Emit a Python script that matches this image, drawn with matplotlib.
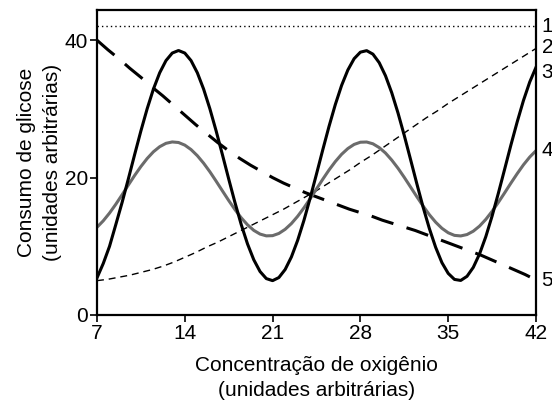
import matplotlib.pyplot as plt
import numpy as np

plt.rcParams["font.family"] = ["Liberation Sans", "DejaVu Sans"]

# oxygen concentration grid for the two oscillating curves
x_fine = np.arange(7, 42.01, 0.5)

# curve 3 (black, solid)
curve3 = [5.4, 7.5, 10.0, 13.16, 16.37, 19.81, 23.34, 26.79, 30.02, 32.89,
          35.26, 37.03, 38.13, 38.5, 38.13, 37.03, 35.26, 32.89, 30.02, 26.79,
          23.34, 19.81, 16.37, 13.16, 10.35, 8.04, 6.33, 5.30, 5.00, 5.45,
          6.62, 8.45, 10.88, 13.78, 17.05, 20.52, 24.04, 27.46, 30.63, 33.41,
          35.66, 37.31, 38.26, 38.48, 37.97, 36.73, 34.83, 32.35, 29.40, 26.12,
          22.63, 19.11, 15.70, 12.58, 9.85, 7.62, 6.06, 5.18, 5.03, 5.63,
          6.93, 8.89, 11.41, 14.40, 17.73, 21.22, 24.74, 28.10, 31.22, 33.91,
          36.05]

# curve 4 (grey, solid)
curve4 = [12.77, 13.71, 14.84, 16.12, 17.50, 18.92, 20.31, 21.61, 22.78, 23.76,
          24.50, 24.99, 25.19, 25.11, 24.73, 24.08, 23.19, 22.10, 20.85, 19.48,
          18.07, 16.67, 15.34, 14.15, 13.13, 12.32, 11.78, 11.52, 11.55, 11.87,
          12.47, 13.31, 14.37, 15.60, 16.94, 18.35, 19.76, 21.11, 22.33, 23.39,
          24.23, 24.83, 25.15, 25.18, 24.92, 24.37, 23.58, 22.55, 21.36, 20.03,
          18.63, 17.22, 15.86, 14.60, 13.51, 12.62, 11.97, 11.59, 11.51, 11.71,
          12.20, 12.94, 13.92, 15.09, 16.39, 17.78, 19.20, 20.57, 21.86, 22.99,
          23.92]

# finer grid for the monotone curves
x_mid = np.arange(7, 42.01, 0.875)

# curve 2 (thin dashed, rising)
curve2 = [5.0, 5.2, 5.5, 5.8, 6.2, 6.6, 7.1, 7.7, 8.4, 9.1, 9.9, 10.6,
          11.4, 12.2, 13.0, 13.8, 14.6, 15.4, 16.3, 17.2, 18.1, 19.1,
          20.1, 21.1, 22.2, 23.2, 24.3, 25.4, 26.5, 27.6, 28.7, 29.7,
          30.8, 31.8, 32.8, 33.8, 34.8, 35.8, 36.8, 37.8, 38.8]

# curve 5 (thick dashed, falling)
curve5 = [40.0, 38.6, 37.3, 35.9, 34.6, 33.2, 31.9, 30.5, 29.1, 27.7,
          26.4, 25.1, 23.9, 22.8, 21.8, 20.9, 20.0, 19.2, 18.5, 17.8,
          17.2, 16.6, 16.0, 15.4, 14.9, 14.4, 13.8, 13.3, 12.8, 12.3,
          11.7, 11.1, 10.5, 9.9, 9.3, 8.7, 8.0, 7.3, 6.6, 5.9, 5.1]

# curve 1 (dotted, constant)
curve1_level = 42

curve_names = ["1", "2", "3", "4", "5"]
name_levels = [42, 39, 35.3, 24, 5]

x_ticks = [7, 14, 21, 28, 35, 42]
y_ticks = [0, 20, 40]

fig = plt.figure(figsize=(5.52, 4.04), dpi=100)
ax = fig.add_axes([0.1757, 0.2203, 0.7953, 0.7550])

ax.axhline(curve1_level, color="black", lw=1, ls=(0, (1, 2.2)))
ax.plot(x_mid, curve2, color="black", lw=1, ls=(0, (5, 3.5)))
ax.plot(x_mid, curve5, color="black", lw=2.2, ls=(0, (7.5, 4.5)))
ax.plot(x_fine, curve4, color="#6b6b6b", lw=2.2)
ax.plot(x_fine, curve3, color="black", lw=2.2)

ax.set_xlim(7, 42)
ax.set_ylim(0, 44.4)
ax.set_xticks(x_ticks)
ax.set_yticks(y_ticks)
ax.tick_params(labelsize=15, length=5, width=1.2, color="black", pad=1.5)

for side in ax.spines.values():
    side.set_linewidth(1.6)

for name, level in zip(curve_names, name_levels):
    ax.annotate(name, xy=(1, level), xycoords=("axes fraction", "data"),
                xytext=(4, 0), textcoords="offset points",
                ha="left", va="center", fontsize=15, annotation_clip=False)

ax.set_xlabel("Concentração de oxigênio\n(unidades arbitrárias)",
              fontsize=15, linespacing=1.45, labelpad=9)
ax.set_ylabel("Consumo de glicose\n(unidades arbitrárias)",
              fontsize=15, linespacing=1.45, labelpad=2)

fig.savefig("out.png", dpi=100)
